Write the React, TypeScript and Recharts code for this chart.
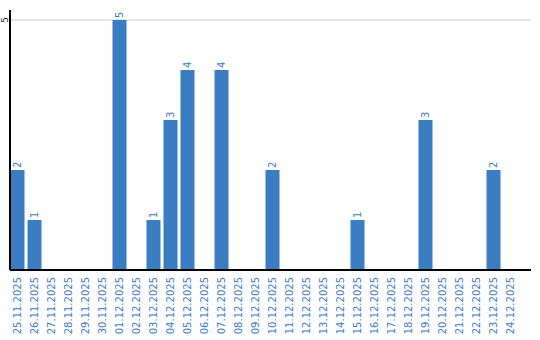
import { BarChart, Bar, XAxis, YAxis, CartesianGrid, LabelList } from "recharts";

const dates = [
  "25.11.2025", "26.11.2025", "27.11.2025", "28.11.2025", "29.11.2025",
  "30.11.2025", "01.12.2025", "02.12.2025", "03.12.2025", "04.12.2025",
  "05.12.2025", "06.12.2025", "07.12.2025", "08.12.2025", "09.12.2025",
  "10.12.2025", "11.12.2025", "12.12.2025", "13.12.2025", "14.12.2025",
  "15.12.2025", "16.12.2025", "17.12.2025", "18.12.2025", "19.12.2025",
  "20.12.2025", "21.12.2025", "22.12.2025", "23.12.2025", "24.12.2025",
];
const counts = [2, 1, 0, 0, 0, 0, 5, 0, 1, 3, 4, 0, 4, 0, 0, 2, 0, 0, 0, 0, 1, 0, 0, 0, 3, 0, 0, 0, 2, 0];
const yTicks = [5];
const Y_MAX = 5.2;

const data = dates.map((d, i) => ({ date: d, count: counts[i] }));

const BLUE = "#3b7dc3";
const FONT = "DejaVu Sans, Verdana, sans-serif";

const DateTick = (props: any) => {
  const { x, y, payload } = props;
  return (
    <text
      x={0}
      y={0}
      transform={`translate(${x},${y - 1}) rotate(-90)`}
      textAnchor="end"
      dominantBaseline="central"
      fill={BLUE}
      fontSize={10}
      fontFamily={FONT}
    >
      {payload.value}
    </text>
  );
};

const ValueTick = (props: any) => {
  const { y, payload } = props;
  return (
    <text
      x={0}
      y={0}
      transform={`translate(4.5,${y}) rotate(-90)`}
      textAnchor="middle"
      dominantBaseline="central"
      fill="#222"
      fontSize={9}
      fontFamily={FONT}
    >
      {payload.value}
    </text>
  );
};

const BarLabel = (props: any) => {
  const { x, y, width, value } = props;
  if (!value) return null;
  const cx = x + width / 2;
  return (
    <text
      x={0}
      y={0}
      transform={`translate(${cx},${y - 2}) rotate(-90)`}
      textAnchor="start"
      dominantBaseline="central"
      fill={BLUE}
      fontSize={10}
      fontFamily={FONT}
    >
      {value}
    </text>
  );
};

// only grid line at the y ticks, not at the plot's top edge
const gridRows = ({ offset }: any) =>
  yTicks.map((t) => offset.top + offset.height * (1 - t / Y_MAX));

export default function App() {
  return (
    <div style={{ position: "absolute", left: 0, top: 0, width: 540, height: 340, background: "#fff" }}>
      <BarChart
        width={540}
        height={340}
        data={data}
        margin={{ top: 10, right: 9, bottom: 0, left: 0 }}
        barCategoryGap={3}
      >
        <CartesianGrid vertical={false} stroke="#cccccc" horizontalCoordinatesGenerator={gridRows} />
        <XAxis
          dataKey="date"
          interval={0}
          height={70}
          padding={{ left: -1.5, right: 12.5 }}
          axisLine={{ stroke: "#000", strokeWidth: 2 }}
          tickLine={false}
          tick={<DateTick />}
        />
        <YAxis
          width={10}
          domain={[0, Y_MAX]}
          ticks={yTicks}
          axisLine={{ stroke: "#000", strokeWidth: 2 }}
          tickLine={false}
          tick={<ValueTick />}
        />
        <Bar dataKey="count" fill={BLUE} barSize={14} isAnimationActive={false}>
          <LabelList dataKey="count" content={<BarLabel />} />
        </Bar>
      </BarChart>
    </div>
  );
}
